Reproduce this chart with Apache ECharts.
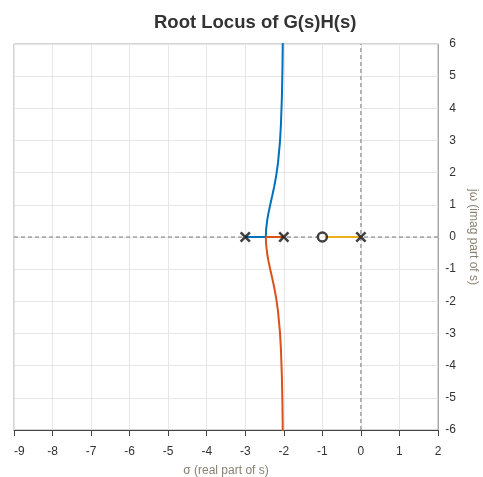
<!DOCTYPE html>
<html><head><meta charset="utf-8">
<script src="https://cdn.jsdelivr.net/npm/echarts@6/dist/echarts.min.js"></script>
<style>html,body{margin:0;padding:0;background:#fff}#c{width:483px;height:477px}</style>
</head><body><div id="c"></div>
<script>
const xTicks = [-9,-8,-7,-6,-5,-4,-3,-2,-1,0,1,2];
const yTicks = [-6,-5,-4,-3,-2,-1,0,1,2,3,4,5,6];
const branchUpper = [[-3,0],[-2.466,0],[-2.465,0.065],[-2.46,0.206],[-2.455,0.285],[-2.45,0.346],[-2.425,0.568],[-2.4,0.735],[-2.35,1.017],[-2.3,1.282],[-2.25,1.561],[-2.2,1.887],[-2.15,2.312],[-2.1,2.965],[-2.075,3.49],[-2.05,4.347],[-2.035,5.244],[-2.025,6.24]];
const branchLower = [[-2,0],[-2.466,0],[-2.465,-0.065],[-2.46,-0.206],[-2.455,-0.285],[-2.45,-0.346],[-2.425,-0.568],[-2.4,-0.735],[-2.35,-1.017],[-2.3,-1.282],[-2.25,-1.561],[-2.2,-1.887],[-2.15,-2.312],[-2.1,-2.965],[-2.075,-3.49],[-2.05,-4.347],[-2.035,-5.244],[-2.025,-6.24]];
const branchReal = [[0,0],[-1,0]];
const poles = [[0,0],[-2,0],[-3,0]];
const zeros = [[-1,0]];
const realAxisRef = [[-9,0],[2,0]];
const imagAxisRef = [[0,-6],[0,6]];

const chart = echarts.init(document.getElementById('c'));
const dash = {color:'#777', width:1, type:[4,3]};
const FF = 'Liberation Sans, Arial, sans-serif';
chart.setOption({
  animation:false,
  title:{text:'Root Locus of G(s)H(s)', left:149, top:8,
    textStyle:{fontSize:18.5, fontWeight:'bold', color:'#333', fontFamily:FF}},
  grid:{left:14, right:45, top:44, bottom:47, show:true, borderColor:'#aaa', borderWidth:1, outerBoundsMode:'none', containLabel:false},
  xAxis:{type:'value', min:-9, max:2, interval:1,
    name:'σ (real part of s)', nameLocation:'middle', nameGap:35,
    nameTextStyle:{color:'#8a8070', fontSize:12, fontFamily:FF},
    axisLine:{show:true, onZero:false, lineStyle:{color:'#444', width:1}},
    axisTick:{show:true, length:6, lineStyle:{color:'#444'}},
    axisLabel:{color:'#333', fontSize:12, margin:16, fontFamily:FF, alignMinLabel:'left'},
    splitLine:{show:true, lineStyle:{color:'#e6e6e6', width:1}}},
  yAxis:{type:'value', min:-6, max:6, interval:1, position:'right',
    name:'jω (imag part of s)', nameLocation:'middle', nameGap:29, nameRotate:-90,
    nameTextStyle:{color:'#8a8070', fontSize:12, fontFamily:FF},
    axisLine:{show:true, onZero:false, lineStyle:{color:'#aaa'}},
    axisTick:{show:false},
    axisLabel:{color:'#333', fontSize:12, margin:18, align:'right', fontFamily:FF},
    splitLine:{show:true, lineStyle:{color:'#e6e6e6', width:1}}},
  series:[
    {type:'line', data:realAxisRef, symbol:'none', lineStyle:dash, silent:true, z:1},
    {type:'line', data:imagAxisRef, symbol:'none', lineStyle:dash, silent:true, z:1},
    {type:'line', data:branchUpper, symbol:'none', lineStyle:{color:'#0072BD', width:2}, z:3},
    {type:'line', data:branchLower, symbol:'none', lineStyle:{color:'#D95319', width:2}, z:3},
    {type:'line', data:branchReal, symbol:'none', lineStyle:{color:'#EDB120', width:2}, z:3},
    {type:'scatter', data:poles, symbol:'path://M4,0 H6 V4 H10 V6 H6 V10 H4 V6 H0 V4 H4 Z', symbolRotate:45, symbolSize:13,
      itemStyle:{color:'#111'}, z:5},
    {type:'scatter', data:zeros, symbol:'circle', symbolSize:9,
      itemStyle:{color:'#fff', borderColor:'#111', borderWidth:2.5}, z:5}
  ]
});
</script></body></html>
